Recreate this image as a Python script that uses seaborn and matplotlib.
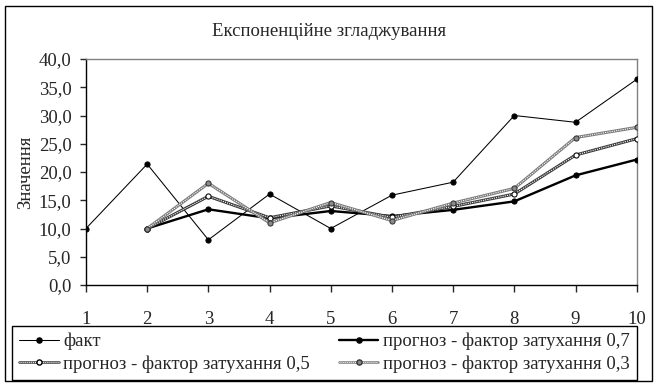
import matplotlib
matplotlib.use("Agg")
import matplotlib.pyplot as plt
from matplotlib.lines import Line2D
from matplotlib.legend_handler import HandlerTuple
from matplotlib.patches import Rectangle
import seaborn as sns
import pandas as pd

sns.set_style("white")
plt.rcParams['font.family'] = ['Liberation Serif', 'DejaVu Serif']

# Data
periods = [1, 2, 3, 4, 5, 6, 7, 8, 9, 10]
fact = [10.0, 21.4, 8.0, 16.1, 10.0, 15.9, 18.2, 30.0, 28.8, 36.4]
fc_periods = [2, 3, 4, 5, 6, 7, 8, 9, 10]
fc_07 = [10.0, 13.4, 11.8, 13.1, 12.2, 13.3, 14.8, 19.4, 22.2]
fc_05 = [10.0, 15.7, 11.9, 14.0, 12.0, 13.9, 16.1, 23.0, 25.9]
fc_03 = [10.0, 18.0, 11.0, 14.6, 11.4, 14.5, 17.1, 26.1, 27.9]

title = "Експоненційне згладжування"
ylabel = "Значення"
labels = ["факт", "прогноз - фактор затухання 0,7",
          "прогноз - фактор затухання 0,5", "прогноз - фактор затухання 0,3"]
yticks = [0, 5, 10, 15, 20, 25, 30, 35, 40]
ytick_labels = ["0,0", "5,0", "10,0", "15,0", "20,0", "25,0", "30,0", "35,0", "40,0"]

fig = plt.figure(figsize=(6.59, 3.87), dpi=100)
ax = fig.add_axes([86/659, 1-285/387, (636.7-86)/659, (285-59)/387])

df_f = pd.DataFrame({"x": periods, "y": fact})
d7 = pd.DataFrame({"x": fc_periods, "y": fc_07})
d5 = pd.DataFrame({"x": fc_periods, "y": fc_05})
d3 = pd.DataFrame({"x": fc_periods, "y": fc_03})

ms = 3.7
# fact
sns.lineplot(data=df_f, x="x", y="y", ax=ax, color="black", lw=0.75,
             marker="o", markersize=ms, markeredgecolor="black", zorder=3)
# 0.7
sns.lineplot(data=d7, x="x", y="y", ax=ax, color="black", lw=1.7,
             marker="o", markersize=ms, markeredgecolor="black", zorder=4)
# 0.5 textured
sns.lineplot(data=d5, x="x", y="y", ax=ax, color="#3a3a3a", lw=2.2, zorder=5)
sns.lineplot(data=d5, x="x", y="y", ax=ax, color="white", lw=0.8,
             linestyle=(0, (1, 1)), zorder=5.1)
sns.lineplot(data=d5, x="x", y="y", ax=ax, linestyle="none", marker="o",
             markersize=ms, markerfacecolor="white", markeredgecolor="black",
             color="black", zorder=5.2)
# 0.3 textured
sns.lineplot(data=d3, x="x", y="y", ax=ax, color="#7a7a7a", lw=2.2, zorder=6)
sns.lineplot(data=d3, x="x", y="y", ax=ax, color="white", lw=0.8,
             linestyle=(0, (1, 1)), zorder=6.1)
sns.lineplot(data=d3, x="x", y="y", ax=ax, linestyle="none", marker="o",
             markersize=ms, markerfacecolor="#8a8a8a", markeredgecolor="#333333",
             color="#8a8a8a", zorder=6.2)

ax.set_xlim(1, 10)
ax.set_ylim(0, 40)
ax.set_xticks(periods)
ax.set_xticklabels([str(p) for p in periods])
ax.set_yticks(yticks)
ax.set_yticklabels(ytick_labels)
ax.set_xlabel("")
ax.set_ylabel(ylabel, fontsize=13.5, labelpad=3)
ax.grid(False)
for s in ["left", "bottom"]:
    ax.spines[s].set_color("black")
    ax.spines[s].set_linewidth(1.0)
for s in ["top", "right"]:
    ax.spines[s].set_color("#808080")
    ax.spines[s].set_linewidth(1.0)
ax.tick_params(axis="y", direction="out", length=4.5, width=1, pad=6,
               labelsize=13.5, left=True)
ax.tick_params(axis="x", direction="out", length=5, width=1, pad=14,
               labelsize=13.5, bottom=True)

fig.text(329.5/659, 1-31/387, title, ha="center", va="center", fontsize=13.5)

# legend handles
h_f = Line2D([], [], color="black", lw=0.75, marker="o", markersize=ms)
h_7 = Line2D([], [], color="black", lw=1.7, marker="o", markersize=ms)
h_5 = (Line2D([], [], color="#3a3a3a", lw=1.8),
       Line2D([], [], color="white", lw=0.7, linestyle=(0, (1, 1))),
       Line2D([], [], linestyle="none", marker="o", markersize=ms,
              markerfacecolor="white", markeredgecolor="black"))
h_3 = (Line2D([], [], color="#7a7a7a", lw=1.8),
       Line2D([], [], color="white", lw=0.7, linestyle=(0, (1, 1))),
       Line2D([], [], linestyle="none", marker="o", markersize=ms,
              markerfacecolor="#8a8a8a", markeredgecolor="#333333"))
leg = fig.legend([h_f, h_5, h_7, h_3], [labels[0], labels[2], labels[1], labels[3]],
                 ncol=2, loc="lower left",
                 bbox_to_anchor=(12/659, 7/387, (637-12)/659, (380-329)/387),
                 mode="expand", fontsize=13.5, frameon=True, fancybox=False,
                 edgecolor="black", framealpha=1, handlelength=2.1,
                 handletextpad=0.25, borderpad=0.38, labelspacing=0.28,
                 borderaxespad=0,
                 handler_map={tuple: HandlerTuple(ndivide=1)})
leg.get_frame().set_linewidth(1.0)

fig.patches.append(Rectangle((5/659, 6/387), 647/659, 375/387, transform=fig.transFigure,
                             fill=False, edgecolor="black", lw=1.0, zorder=-1))

fig.savefig("out.png", dpi=100)
